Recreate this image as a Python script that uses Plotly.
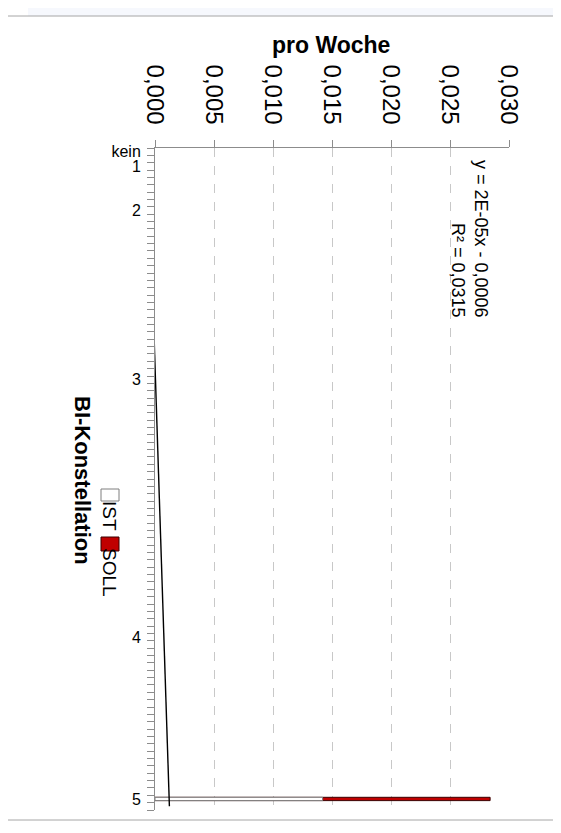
import numpy as np
import plotly.graph_objects as go

# ---------------- data ----------------
n_categories = 90
label_positions = [0, 2, 8, 31, 66, 88]
label_texts = ["kein", "1", "2", "3", "4", "5"]

bar_category = [88]
ist_values = [0.0142]
soll_values = [0.0284]

value_ticks = [0.000, 0.005, 0.010, 0.015, 0.020, 0.025, 0.030]
value_tick_text = ["0,000", "0,005", "0,010", "0,015", "0,020", "0,025", "0,030"]

# full series for the trendline (zero everywhere except the bar category)
soll_series = np.zeros(n_categories)
soll_series[bar_category] = soll_values
x_excel = np.arange(1, n_categories + 1)
slope, intercept = np.polyfit(x_excel, soll_series, 1)
trend_vals = slope * x_excel + intercept
trend_cat = x_excel - 1

# ---------------- geometry helpers ----------------
# the page body adds an 8px offset, so work in page pixels and shift
OFF = 8
W, H = 561 - OFF, 833 - OFF
L, R, T, B = 155 - OFF, 509 - OFF, 148 - OFF, 810 - OFF
def fx(px):
    return (px - OFF - L) / (R - L)
def fy(py):
    return (B - (py - OFF)) / (B - T)

FONT = "Liberation Sans"
AX = "#8C8C8C"

fig = go.Figure()

fig.add_trace(go.Bar(
    x=soll_values, y=bar_category, orientation="h", width=0.45,
    marker=dict(color="#C00000", line=dict(color="#3a0000", width=1)),
    name="SOLL", showlegend=False,
))
fig.add_trace(go.Bar(
    x=ist_values, y=bar_category, orientation="h", width=0.45,
    marker=dict(color="#FFFFFF", line=dict(color="#7F7F7F", width=1)),
    name="IST", showlegend=False,
))
fig.add_trace(go.Scatter(
    x=trend_vals, y=trend_cat, mode="lines",
    line=dict(color="#000000", width=1.4), showlegend=False, hoverinfo="skip",
))

shapes = [
    # light page strips outside the chart frame
    dict(type="rect", xref="paper", yref="paper", x0=fx(28), x1=fx(561), y0=fy(0), y1=fy(16),
         fillcolor="#F6F8FD", line=dict(width=0), layer="below"),
    dict(type="rect", xref="paper", yref="paper", x0=fx(555), x1=fx(561), y0=fy(16), y1=fy(833),
         fillcolor="#F6F8FD", line=dict(width=0), layer="below"),
    # chart frame
    dict(type="rect", xref="paper", yref="paper", x0=fx(7), x1=fx(555), y0=fy(820), y1=fy(16),
         fillcolor="rgba(0,0,0,0)", line=dict(color="#A6A6A6", width=1), layer="below"),
    # legend keys
    dict(type="rect", xref="paper", yref="paper", x0=fx(101), x1=fx(119), y0=fy(501), y1=fy(489),
         fillcolor="#FFFFFF", line=dict(color="#7F7F7F", width=1)),
    dict(type="rect", xref="paper", yref="paper", x0=fx(101), x1=fx(119), y0=fy(551), y1=fy(537),
         fillcolor="#C00000", line=dict(color="#3a0000", width=1)),
]

annotations = [
    dict(text="<b>pro Woche</b>", xref="paper", yref="paper", x=fx(331), y=fy(45),
         showarrow=False, font=dict(family=FONT, size=23, color="#000"), xanchor="center", yanchor="middle"),
    dict(text="y = 2E-05x - 0,0006<br>R² = 0,0315", xref="paper", yref="paper", x=fx(470), y=fy(239),
         showarrow=False, textangle=90, align="right",
         font=dict(family=FONT, size=18, color="#000"), xanchor="center", yanchor="middle"),
    dict(text="<b>BI-Konstellation</b>", xref="paper", yref="paper", x=fx(83), y=fy(480),
         showarrow=False, textangle=90, font=dict(family=FONT, size=22, color="#000"),
         xanchor="center", yanchor="middle"),
    dict(text="IST", xref="paper", yref="paper", x=fx(110), y=fy(516),
         showarrow=False, textangle=90, font=dict(family=FONT, size=19, color="#000"),
         xanchor="center", yanchor="middle"),
    dict(text="SOLL", xref="paper", yref="paper", x=fx(110), y=fy(572),
         showarrow=False, textangle=90, font=dict(family=FONT, size=19, color="#000"),
         xanchor="center", yanchor="middle"),
]

fig.update_layout(
    width=W, height=H,
    margin=dict(l=L, r=W - R, t=T, b=H - B, pad=0, autoexpand=False),
    paper_bgcolor="#FFFFFF", plot_bgcolor="#FFFFFF",
    barmode="overlay", bargap=0.5,
    showlegend=False,
    separators=",.",
    shapes=shapes, annotations=annotations,
    xaxis=dict(
        side="top", range=[0, 0.030], tickvals=value_ticks, ticktext=value_tick_text,
        tickangle=90, tickfont=dict(family=FONT, size=24, color="#000"),
        ticks="outside", ticklen=7, tickcolor=AX, tickwidth=1,
        showline=True, linecolor=AX, linewidth=1,
        showgrid=True, gridcolor="#C8C8C8", griddash="dash", gridwidth=1,
        zeroline=False, ticklabelstandoff=7, automargin=False,
    ),
    yaxis=dict(
        range=[n_categories - 0.5, -0.5], tickvals=label_positions, ticktext=label_texts,
        tickfont=dict(family=FONT, size=16, color="#000"),
        ticks="outside", ticklen=7, tickcolor="rgba(0,0,0,0)",
        minor=dict(tick0=-0.5, dtick=1, ticks="outside", ticklen=7, tickcolor=AX, tickwidth=1, showgrid=False),
        showline=True, linecolor=AX, linewidth=1,
        showgrid=False, zeroline=False, ticklabelstandoff=3, automargin=False,
    ),
)

fig.write_html("out.html")
